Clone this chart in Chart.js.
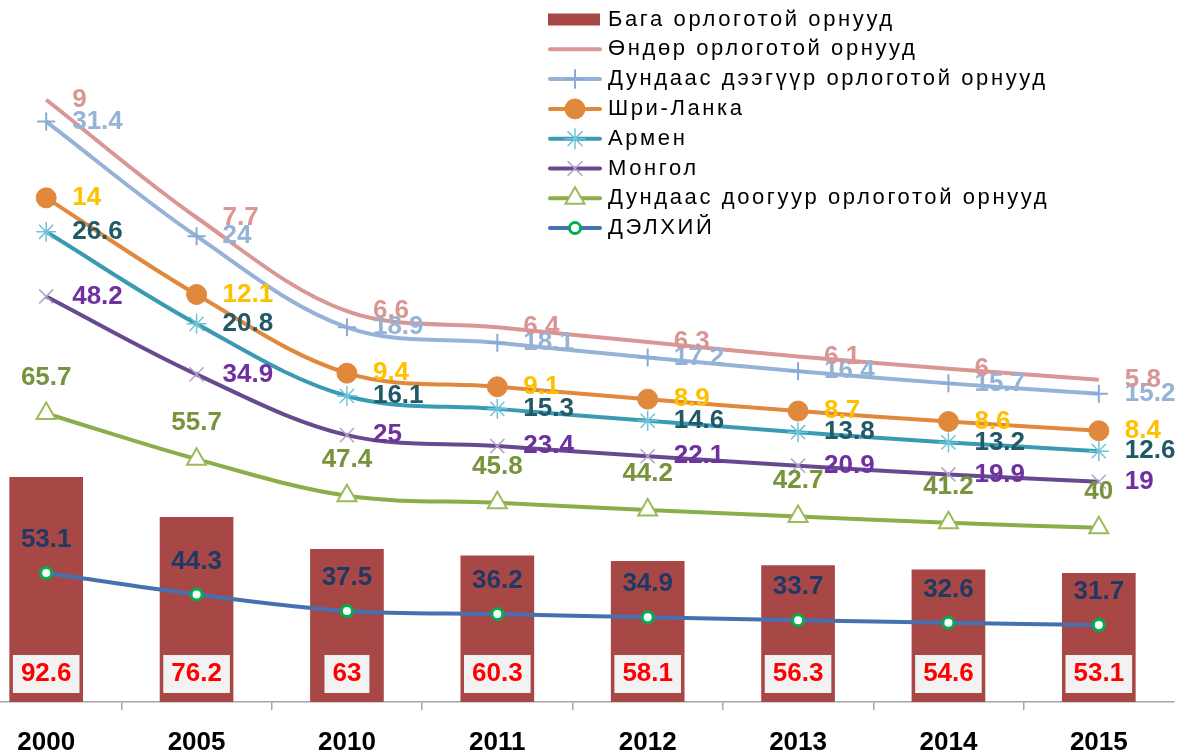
<!DOCTYPE html>
<html>
<head>
<meta charset="utf-8">
<script src="https://cdn.jsdelivr.net/npm/chart.js@4/dist/chart.umd.min.js"></script>
<style>
html,body{margin:0;padding:0;background:#fff;}
#wrap{width:1180px;height:755px;position:relative;overflow:hidden;}
#c{position:absolute;left:-29px;top:0;}
</style>
</head>
<body>
<div id="wrap"><canvas id="c" width="1209" height="755"></canvas></div>
<script>
// ---- data ----
const years = ['2000', '2005', '2010', '2011', '2012', '2013', '2014', '2015'];
const lowIncome   = [92.6, 76.2, 63, 60.3, 58.1, 56.3, 54.6, 53.1];   // Бага орлоготой орнууд (bars)
const highIncome  = [9, 7.7, 6.6, 6.4, 6.3, 6.1, 6, 5.8];              // Өндөр орлоготой орнууд
const upperMiddle = [31.4, 24, 18.9, 18.1, 17.2, 16.4, 15.7, 15.2];    // Дундаас дээгүүр
const sriLanka    = [14, 12.1, 9.4, 9.1, 8.9, 8.7, 8.6, 8.4];          // Шри-Ланка
const armenia     = [26.6, 20.8, 16.1, 15.3, 14.6, 13.8, 13.2, 12.6];  // Армен
const mongolia    = [48.2, 34.9, 25, 23.4, 22.1, 20.9, 19.9, 19];      // Монгол
const lowerMiddle = [65.7, 55.7, 47.4, 45.8, 44.2, 42.7, 41.2, 40];    // Дундаас доогуур
const world       = [53.1, 44.3, 37.5, 36.2, 34.9, 33.7, 32.6, 31.7];  // ДЭЛХИЙ

const FONT = '"Liberation Sans", Arial, sans-serif';
const CANVAS_SHIFT = 29; // canvas is shifted left by this many px inside the page

function drawMarker(ctx, style, x, y, r, fill, stroke, lw) {
  if (!style || r <= 0) return;
  ctx.save();
  ctx.lineWidth = lw;
  ctx.strokeStyle = stroke;
  ctx.fillStyle = fill;
  ctx.beginPath();
  const d = r * Math.SQRT1_2;
  let doFill = false;
  if (style === 'circle') {
    ctx.arc(x, y, r, 0, Math.PI * 2); ctx.closePath(); doFill = true;
  } else if (style === 'triangle') {
    for (let k = 0; k < 3; k++) {
      const a = k * 2 * Math.PI / 3;
      const px = x + Math.sin(a) * r, py = y - Math.cos(a) * r;
      if (k === 0) ctx.moveTo(px, py); else ctx.lineTo(px, py);
    }
    ctx.closePath(); doFill = true;
  } else {
    if (style === 'cross' || style === 'star') {
      ctx.moveTo(x, y - r); ctx.lineTo(x, y + r);
      ctx.moveTo(x - r, y); ctx.lineTo(x + r, y);
    }
    if (style === 'crossRot' || style === 'star') {
      ctx.moveTo(x - d, y - d); ctx.lineTo(x + d, y + d);
      ctx.moveTo(x - d, y + d); ctx.lineTo(x + d, y - d);
    }
  }
  if (doFill) ctx.fill();
  if (lw > 0) ctx.stroke();
  ctx.restore();
}

// value labels drawn at the library's element positions
const valueLabels = {
  id: 'valueLabels',
  afterDatasetsDraw(chart) {
    const ctx = chart.ctx;
    chart.data.datasets.forEach((ds, di) => {
      const meta = chart.getDatasetMeta(di);
      meta.data.forEach((el, i) => {
        const txt = String(ds.data[i]);
        ctx.save();
        ctx.font = 'bold 26px ' + FONT;
        ctx.textBaseline = 'middle';
        if (ds.type === 'bar') {
          const w = ctx.measureText(txt).width + 16, h = 38;
          const cy = el.base - 28;
          ctx.fillStyle = '#F2F2F2';
          ctx.fillRect(el.x - w / 2, cy - h / 2, w, h);
          ctx.fillStyle = ds.labelColor;
          ctx.textAlign = 'center';
          ctx.fillText(txt, el.x, cy);
        } else if (ds.labelPos === 'above') {
          ctx.fillStyle = ds.labelColor;
          ctx.textAlign = 'center';
          ctx.fillText(txt, el.x, el.y + ds.labelDy);
        } else {
          ctx.fillStyle = ds.labelColor;
          ctx.textAlign = 'left';
          ctx.fillText(txt, el.x + 26, el.y);
        }
        ctx.restore();
      });
    });
  }
};

// legend: bar first, then line series from top of stack to bottom
const customLegend = {
  id: 'customLegend',
  afterDraw(chart) {
    const ctx = chart.ctx;
    const dss = chart.data.datasets;
    const order = [0];
    for (let k = dss.length - 1; k >= 1; k--) order.push(k);
    ctx.save();
    ctx.translate(CANVAS_SHIFT, 0);
    order.forEach((di, k) => {
      const ds = dss[di];
      const y = 19.5 + 29.8 * k;
      ctx.save();
      if (ds.type === 'bar') {
        ctx.fillStyle = ds.backgroundColor;
        ctx.fillRect(548, y - 6, 52, 12);
      } else {
        ctx.strokeStyle = ds.borderColor;
        ctx.lineWidth = 4;
        ctx.lineCap = 'round';
        ctx.beginPath(); ctx.moveTo(550, y); ctx.lineTo(600, y); ctx.stroke();
        if (ds.pointRadius > 0) {
          drawMarker(ctx, ds.pointStyle, 575, y, ds.pointRadius,
            ds.pointBackgroundColor || '#fff', ds.pointBorderColor, ds.pointBorderWidth);
        }
      }
      ctx.fillStyle = '#000';
      ctx.font = '22px ' + FONT;
      try { ctx.letterSpacing = '2.6px'; } catch (e) {}
      ctx.textBaseline = 'middle';
      ctx.textAlign = 'left';
      ctx.fillText(ds.label, 608, y);
      ctx.restore();
    });
    ctx.restore();
  }
};

const lineCommon = { type: 'line', order: 0, borderWidth: 4, tension: 0.35, clip: false, fill: false };

const tickColor = (c) => (c.index >= 1 && c.index <= years.length - 1) ? '#A6A6A6' : 'rgba(0,0,0,0)';

new Chart(document.getElementById('c'), {
  type: 'bar',
  data: {
    labels: years,
    datasets: [
      { type: 'bar', label: 'Бага орлоготой орнууд', data: lowIncome, backgroundColor: '#A84846',
        order: 1, categoryPercentage: 1, barPercentage: 0.49, clip: false, labelColor: '#FF0000' },
      Object.assign({}, lineCommon, { label: 'ДЭЛХИЙ', data: world, borderColor: '#4671B1',
        pointStyle: 'circle', pointRadius: 5.5, pointBackgroundColor: '#FFFFFF', pointBorderColor: '#00B050',
        pointBorderWidth: 3, labelColor: '#1F3864', labelPos: 'above', labelDy: -33 }),
      Object.assign({}, lineCommon, { label: 'Дундаас доогуур орлоготой орнууд', data: lowerMiddle, borderColor: '#8AAE4A',
        pointStyle: 'triangle', pointRadius: 11, pointBackgroundColor: '#FFFFFF', pointBorderColor: '#9BBB59',
        pointBorderWidth: 2, labelColor: '#77933C', labelPos: 'above', labelDy: -36 }),
      Object.assign({}, lineCommon, { label: 'Монгол', data: mongolia, borderColor: '#66498F',
        pointStyle: 'crossRot', pointRadius: 10, pointBackgroundColor: '#B3A2C7', pointBorderColor: '#B3A2C7',
        pointBorderWidth: 1.5, labelColor: '#7030A0' }),
      Object.assign({}, lineCommon, { label: 'Армен', data: armenia, borderColor: '#3A9AB2',
        pointStyle: 'star', pointRadius: 10, pointBackgroundColor: '#6EC3D8', pointBorderColor: '#6EC3D8',
        pointBorderWidth: 1.5, labelColor: '#215967' }),
      Object.assign({}, lineCommon, { label: 'Шри-Ланка', data: sriLanka, borderColor: '#E0883C',
        pointStyle: 'circle', pointRadius: 10, pointBackgroundColor: '#E0883C', pointBorderColor: '#E0883C',
        pointBorderWidth: 1, labelColor: '#FFC000' }),
      Object.assign({}, lineCommon, { label: 'Дундаас дээгүүр орлоготой орнууд', data: upperMiddle, borderColor: '#95B3D7',
        pointStyle: 'cross', pointRadius: 9, pointBackgroundColor: '#8AA9D4', pointBorderColor: '#8AA9D4',
        pointBorderWidth: 2, labelColor: '#95B3D7' }),
      Object.assign({}, lineCommon, { label: 'Өндөр орлоготой орнууд', data: highIncome, borderColor: '#D99694',
        pointRadius: 0, pointHoverRadius: 0, labelColor: '#D99694' })
    ]
  },
  options: {
    responsive: false,
    animation: false,
    events: [],
    layout: { autoPadding: false, padding: { left: 0, right: 6, top: 22, bottom: 0 } },
    plugins: { legend: { display: false }, tooltip: { enabled: false }, title: { display: false } },
    scales: {
      x: {
        type: 'category',
        offset: true,
        grid: { offset: true, drawOnChartArea: false, drawTicks: true, tickLength: 8,
                color: tickColor, tickColor: tickColor, lineWidth: 1.5, tickWidth: 1.5 },
        border: { display: true, color: '#A6A6A6', width: 1.5 },
        ticks: { color: '#000', padding: 20, maxRotation: 0, autoSkip: false,
                 font: { family: FONT, size: 26, weight: 'bold', lineHeight: 1 } },
        afterFit(scale) { scale.height = 53; scale.paddingLeft = 0; scale.paddingRight = 0; }
      },
      y: {
        display: false,
        stacked: true,
        min: 0,
        max: 280
      }
    }
  },
  plugins: [valueLabels, customLegend]
});
</script>
</body>
</html>
